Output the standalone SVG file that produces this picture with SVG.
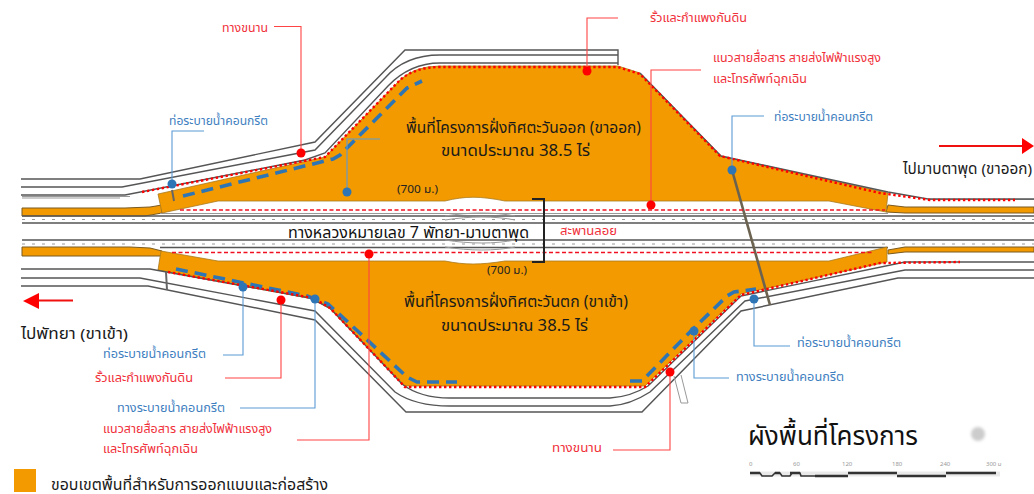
<svg xmlns="http://www.w3.org/2000/svg" width="1034" height="494" viewBox="0 0 1034 494">
<style>
text{font-family:"Noto Sans","Noto Sans Thai","DejaVu Sans",sans-serif;}
.area{fill:#f29a00;stroke:#a87a20;stroke-width:.8}
.strip{fill:#f29a00;stroke:#7a5a20;stroke-width:1}
.road{fill:none;stroke:#555;stroke-width:1.4}
.roadL{fill:none;stroke:#999;stroke-width:1}
.hw{fill:none;stroke:#555;stroke-width:1.5}
.hwd{fill:none;stroke:#999;stroke-width:1.2;stroke-dasharray:3 7}
.drain{fill:none;stroke:#2e75b6;stroke-width:3.6;stroke-dasharray:12 7}
.fence{fill:none;stroke:#f00;stroke-width:2.400;stroke-dasharray:2.400 2.600}
.util{fill:none;stroke:#f01020;stroke-width:1.500;stroke-dasharray:4 2.500}
.lr{fill:none;stroke:#f44;stroke-width:1.1}
.lb{fill:none;stroke:#5b9bd5;stroke-width:1.1}
.dr{fill:#f00}
.db{fill:#2e75b6}
.tr{fill:#f0303a;font-size:12.4px}
.tb{fill:#3f7fbf;font-size:12.4px}
.tk{fill:#1a1a1a;font-size:15px}
.ta{fill:#1a1a1a;font-size:16px}
.ts{fill:#999;font-size:6px}
</style>
<defs><filter id="blur" x="-50%" y="-50%" width="200%" height="200%"><feGaussianBlur stdDeviation="1.5"/></filter></defs>

<g id="highway">
<path class="strip" d="M22 208H125L150 207L162 205V213L145 216H22Z"/>
<path class="strip" d="M888 205L905 207H1034V213H905L886 212Z"/>
<path class="strip" d="M22 247H130L150 248L162 251V256H22Z"/>
<path class="strip" d="M888 250L905 247H1034V252H905L888 254Z"/>
<path class="roadL" d="M22 196.500H130M22 198H120M930 199.500H1034"/>
<path class="hw" d="M22 216H1034M22 223H1034M22 240H1034M160 247.500H888"/>
<path class="roadL" d="M160 213.500H888"/>
<path class="hwd" d="M22 219.500H1034M22 244H1034"/>
<path class="roadL" d="M445 216C470 212 495 212 515 216M445 220C470 216 495 216 515 220M445 240C470 244 495 244 515 240M445 247C470 251 495 251 515 247"/>
</g>

<g id="area-east">
<path class="area" d="M158 194L325 157L400 80Q415 66 440 66H618L640 73L721 156L888 193L886 212L829 201H505C480 196 465 196 445 201H218L162 213Z"/>
</g>
<g id="area-west">
<path class="area" d="M161 251L218 261H445C465 265 480 265 505 261H829L887 247V262L741 294L645 386H405L330 309L313 299L168 272L158 270Z"/>
</g>

<g id="roads">
<path class="road" d="M21 179H140L315 142L405 50H618V65"/>
<path class="road" d="M21 187H122L315 150L385 78Q405 55 440 55H618"/>
<path class="road" d="M21 195H125L305 160L325 153L388 86Q410 63 440 63H618"/>
<path class="road" d="M640 73L721 156L888 192L928 199H1034"/>
<path class="road" d="M21 286H148L315 320L406 412H642L741 311L898 278H1034"/>
<path class="road" d="M21 278H140L315 311L395 392Q415 406 450 406H610Q630 405 650 392L745 301L905 270H1034"/>
<path class="road" d="M21 269H150L310 298L330 308L402 384Q420 398 450 398H610Q630 397 648 386L741 296L905 262H1034"/>
<path class="roadL" d="M674 376L681 403L688 403L681 375"/>
<path d="M732 170L770 305" fill="none" stroke="#6b6250" stroke-width="2.600"/>
<path d="M172 190L174 201M166 272L167 290" fill="none" stroke="#666" stroke-width="2"/>
</g>

<g id="utilities">
<path class="util" d="M180 210H885M172 252.500H872"/>
<path class="drain" d="M183 196L333 159L340 155L380 115L407 88L422 81"/>
<path class="drain" d="M176 269L307 296L328 304L350 324L407 377L417 382H457"/>
<path class="drain" d="M630 381H642L690 332L727 296L734 292L756 289"/>
<path class="fence" d="M142 192L325 157L400 80Q415 67 440 67H618L640 74L720 156L880 193L930 200H1015"/>
<path class="fence" d="M168 272L313 298L330 308L405 387H645L741 295L880 263L960 262"/>
</g>

<g id="connectors">
<path class="lr" d="M274 26.500H301V153"/>
<path class="lb" d="M204 131H172V184"/>
<path class="lb" d="M380 139H347V192"/>
<path class="lr" d="M618 18H587V71"/>
<path class="lr" d="M701 70H651V205"/>
<path class="lb" d="M764 116H732V170"/>
<path class="lb" d="M223 355H243V287"/>
<path class="lr" d="M225 378H281V300"/>
<path class="lb" d="M240 408H315V299"/>
<path class="lr" d="M297 440H369V254"/>
<path class="lr" d="M613 450H670V372"/>
<path class="lb" d="M790 346H754V299"/>
<path class="lb" d="M729 378H694V331"/>
</g>

<g id="bridge-bracket"><path d="M532 199H544V262H532" fill="none" stroke="#222" stroke-width="2"/></g>

<g id="label-service-n"><circle class="dr" cx="301" cy="153" r="4.500"/><text class="tr" x="222" y="32" textLength="46" lengthAdjust="spacingAndGlyphs">ทางขนาน</text></g>
<g id="label-pipe-nw"><circle class="db" cx="172" cy="184" r="4.500"/><text class="tb" x="169" y="125" textLength="99" lengthAdjust="spacingAndGlyphs">ท่อระบายน้ำคอนกรีต</text></g>
<g id="label-drain-n"><circle class="db" cx="347" cy="192" r="4.500"/></g>
<g id="label-fence-n"><circle class="dr" cx="587" cy="71" r="4.500"/><text class="tr" x="650" y="22" textLength="97" lengthAdjust="spacingAndGlyphs">รั้วและกำแพงกันดิน</text></g>
<g id="label-utility-n"><circle class="dr" cx="651" cy="205" r="4.500"/><text class="tr" x="713" y="62" textLength="168" lengthAdjust="spacingAndGlyphs">แนวสายสื่อสาร สายส่งไฟฟ้าแรงสูง</text><text class="tr" x="713" y="83" textLength="94" lengthAdjust="spacingAndGlyphs">และโทรศัพท์ฉุกเฉิน</text></g>
<g id="label-pipe-ne"><circle class="db" cx="732" cy="170" r="4.500"/><text class="tb" x="774" y="121" textLength="99" lengthAdjust="spacingAndGlyphs">ท่อระบายน้ำคอนกรีต</text></g>
<g id="label-east-area"><text class="ta" x="406" y="133" textLength="235" lengthAdjust="spacingAndGlyphs">พื้นที่โครงการฝั่งทิศตะวันออก (ขาออก)</text><text class="ta" x="441" y="156" textLength="149" lengthAdjust="spacingAndGlyphs">ขนาดประมาณ 38.5 ไร่</text></g>
<g id="label-east-700"><text x="397" y="193" fill="#222" font-size="10" textLength="41" lengthAdjust="spacingAndGlyphs">(700 ม.)</text></g>
<g id="label-highway"><text x="288" y="238" fill="#111" font-size="16" textLength="241" lengthAdjust="spacingAndGlyphs">ทางหลวงหมายเลข 7 พัทยา-มาบตาพุด</text></g>
<g id="label-bridge"><text class="tr" x="560" y="235" textLength="57" lengthAdjust="spacingAndGlyphs">สะพานลอย</text></g>
<g id="label-to-maptaphut"><path d="M939 146H1024" stroke="#f01010" stroke-width="2"/><path d="M1022 138L1034 146L1022 154Z" fill="#f00"/><text class="tk" x="903" y="174" textLength="129" lengthAdjust="spacingAndGlyphs">ไปมาบตาพุด (ขาออก)</text></g>
<g id="label-to-pattaya"><path d="M73 300.500H36" stroke="#f01010" stroke-width="2"/><path d="M39 293L23 301L39 309Z" fill="#f00"/><text class="tk" x="21" y="339" textLength="107" lengthAdjust="spacingAndGlyphs">ไปพัทยา (ขาเข้า)</text></g>
<g id="label-west-700"><text x="487" y="274" fill="#222" font-size="10" textLength="40" lengthAdjust="spacingAndGlyphs">(700 ม.)</text></g>
<g id="label-west-area"><text class="ta" x="404" y="307" textLength="224" lengthAdjust="spacingAndGlyphs">พื้นที่โครงการฝั่งทิศตะวันตก (ขาเข้า)</text><text class="ta" x="441" y="331" textLength="147" lengthAdjust="spacingAndGlyphs">ขนาดประมาณ 38.5 ไร่</text></g>
<g id="label-pipe-sw"><circle class="db" cx="243" cy="287" r="4.500"/><text class="tb" x="103" y="358" textLength="103" lengthAdjust="spacingAndGlyphs">ท่อระบายน้ำคอนกรีต</text></g>
<g id="label-fence-s"><circle class="dr" cx="281" cy="300" r="4.500"/><text class="tr" x="95" y="382" textLength="98" lengthAdjust="spacingAndGlyphs">รั้วและกำแพงกันดิน</text></g>
<g id="label-drain-sw"><circle class="db" cx="315" cy="299" r="4.500"/><text class="tb" x="117" y="412" textLength="108" lengthAdjust="spacingAndGlyphs">ทางระบายน้ำคอนกรีต</text></g>
<g id="label-utility-s"><circle class="dr" cx="369" cy="254" r="4.500"/><text class="tr" x="103" y="433" textLength="169" lengthAdjust="spacingAndGlyphs">แนวสายสื่อสาร สายส่งไฟฟ้าแรงสูง</text><text class="tr" x="103" y="453" textLength="95" lengthAdjust="spacingAndGlyphs">และโทรศัพท์ฉุกเฉิน</text></g>
<g id="label-service-s"><circle class="dr" cx="670" cy="372" r="4.500"/><text class="tr" x="552" y="452" textLength="50" lengthAdjust="spacingAndGlyphs">ทางขนาน</text></g>
<g id="label-pipe-se"><circle class="db" cx="754" cy="299" r="4.500"/><text class="tb" x="797" y="347" textLength="104" lengthAdjust="spacingAndGlyphs">ท่อระบายน้ำคอนกรีต</text></g>
<g id="label-drain-se"><circle class="db" cx="694" cy="331" r="4.500"/><text class="tb" x="736" y="381" textLength="108" lengthAdjust="spacingAndGlyphs">ทางระบายน้ำคอนกรีต</text></g>

<g id="title"><text x="748" y="445" fill="#111" font-size="27" textLength="170" lengthAdjust="spacingAndGlyphs">ผังพื้นที่โครงการ</text><circle cx="978" cy="434" r="7" fill="#ccc" filter="url(#blur)"/></g>
<g id="scale">
<path d="M750 474H1000" stroke="#ddd" stroke-width="5" opacity=".6"/>
<path d="M750 473H760M775 473H780M790 473H800M815 476H848M848 473H897M897 476H946M946 473H996" stroke="#333" stroke-width="2.600" fill="none"/>
<path d="M750 473H760L762 476H772L775 473H780L782 476H790L792 473H800L801 476H815" stroke="#333" stroke-width="1.600" fill="none"/>
<text class="ts" x="749" y="466">0</text><text class="ts" x="793" y="466">60</text><text class="ts" x="842" y="466">120</text><text class="ts" x="892" y="466">180</text><text class="ts" x="940" y="466">240</text><text class="ts" x="986" y="466">300 ม</text>
</g>
<g id="legend"><rect x="14" y="469" width="22" height="23" fill="#f29a00"/><text class="tk" x="51" y="490" textLength="277" lengthAdjust="spacingAndGlyphs">ขอบเขตพื้นที่สำหรับการออกแบบและก่อสร้าง</text></g>
</svg>
